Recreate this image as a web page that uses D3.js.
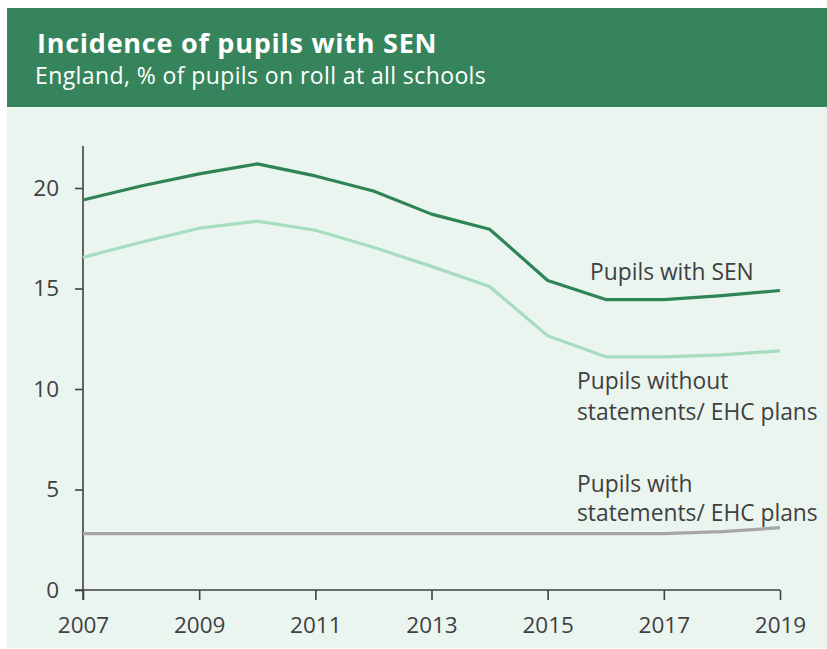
<!DOCTYPE html>
<html><head><meta charset="utf-8">
<script src="https://cdn.jsdelivr.net/npm/d3@7"></script>
<style>
html,body{margin:0;padding:0;background:#fff;}
svg{display:block;font-family:"Open Sans",sans-serif;}
</style></head>
<body>
<svg id="c" width="827" height="649"></svg>
<script>
const years = [2007,2008,2009,2010,2011,2012,2013,2014,2015,2016,2017,2018,2019];
const withSEN = [19.4,20.1,20.7,21.2,20.6,19.85,18.7,17.95,15.4,14.45,14.45,14.65,14.9];
const withoutPlans = [16.55,17.3,18.0,18.35,17.9,17.05,16.1,15.1,12.65,11.6,11.6,11.7,11.9];
const withPlans = [2.8,2.8,2.8,2.8,2.8,2.8,2.8,2.8,2.8,2.8,2.8,2.9,3.1];
const xTicks = [2007,2009,2011,2013,2015,2017,2019];
const yTicks = [0,5,10,15,20];
const title = "Incidence of pupils with SEN";
const subtitle = "England, % of pupils on roll at all schools";

const svg = d3.select("#c");
svg.append("rect").attr("x",7).attr("y",107).attr("width",820).attr("height",541).attr("fill","#EBF5F0");
svg.append("rect").attr("x",7).attr("y",8).attr("width",820).attr("height",99).attr("fill","#36845C");
svg.append("text").attr("x",37).attr("y",53).attr("fill","#fff").attr("font-size",27).attr("font-weight",700).attr("letter-spacing",0.75).text(title);
svg.append("text").attr("x",35).attr("y",84).attr("fill","#fff").attr("font-size",23).attr("letter-spacing",0.4).text(subtitle);

const x = d3.scaleLinear().domain([2007,2019]).range([83,780]);
const y = d3.scaleLinear().domain([0,20]).range([590,188]);
const axisColor = "#404040";

const xa = svg.append("g").attr("transform","translate(0,590)")
  .call(d3.axisBottom(x).tickValues(xTicks).tickFormat(d3.format("d")).tickSize(10).tickSizeOuter(0));
const ya = svg.append("g").attr("transform","translate(83,0)")
  .call(d3.axisLeft(y).tickValues(yTicks).tickSize(8).tickPadding(16).tickSizeOuter(0));
ya.select(".domain").attr("d","M0,146V600");
xa.select(".domain").attr("d","M75,0H780");
[xa,ya].forEach(a=>{
  a.selectAll("path,line").attr("stroke",axisColor).attr("stroke-width",1.6);
  a.selectAll("text").attr("fill",axisColor).attr("font-size",22.5).attr("font-family","Open Sans, sans-serif");
});
xa.selectAll("text").attr("y",0).attr("dy",0).attr("transform","translate(0,42.7)");

const line = d3.line().x((d,i)=>x(years[i])).y(d=>y(d));
const series = [[withPlans,"#A6A6A6"],[withoutPlans,"#A6DDBF"],[withSEN,"#2F8456"]];
series.forEach(([v,c])=>{
  svg.append("path").attr("d",line(v)).attr("fill","none").attr("stroke",c).attr("stroke-width",3.2).attr("stroke-linejoin","round");
});

const labels = [
  [590,280,"Pupils with SEN"],
  [577,389,"Pupils without"],[577,420,"statements/ EHC plans"],
  [577,492,"Pupils with"],[577,521,"statements/ EHC plans"]
];
labels.forEach(([lx,ly,t])=>{
  svg.append("text").attr("x",lx).attr("y",ly).attr("fill",axisColor).attr("font-size",22.8).text(t);
});
</script>
</body></html>
